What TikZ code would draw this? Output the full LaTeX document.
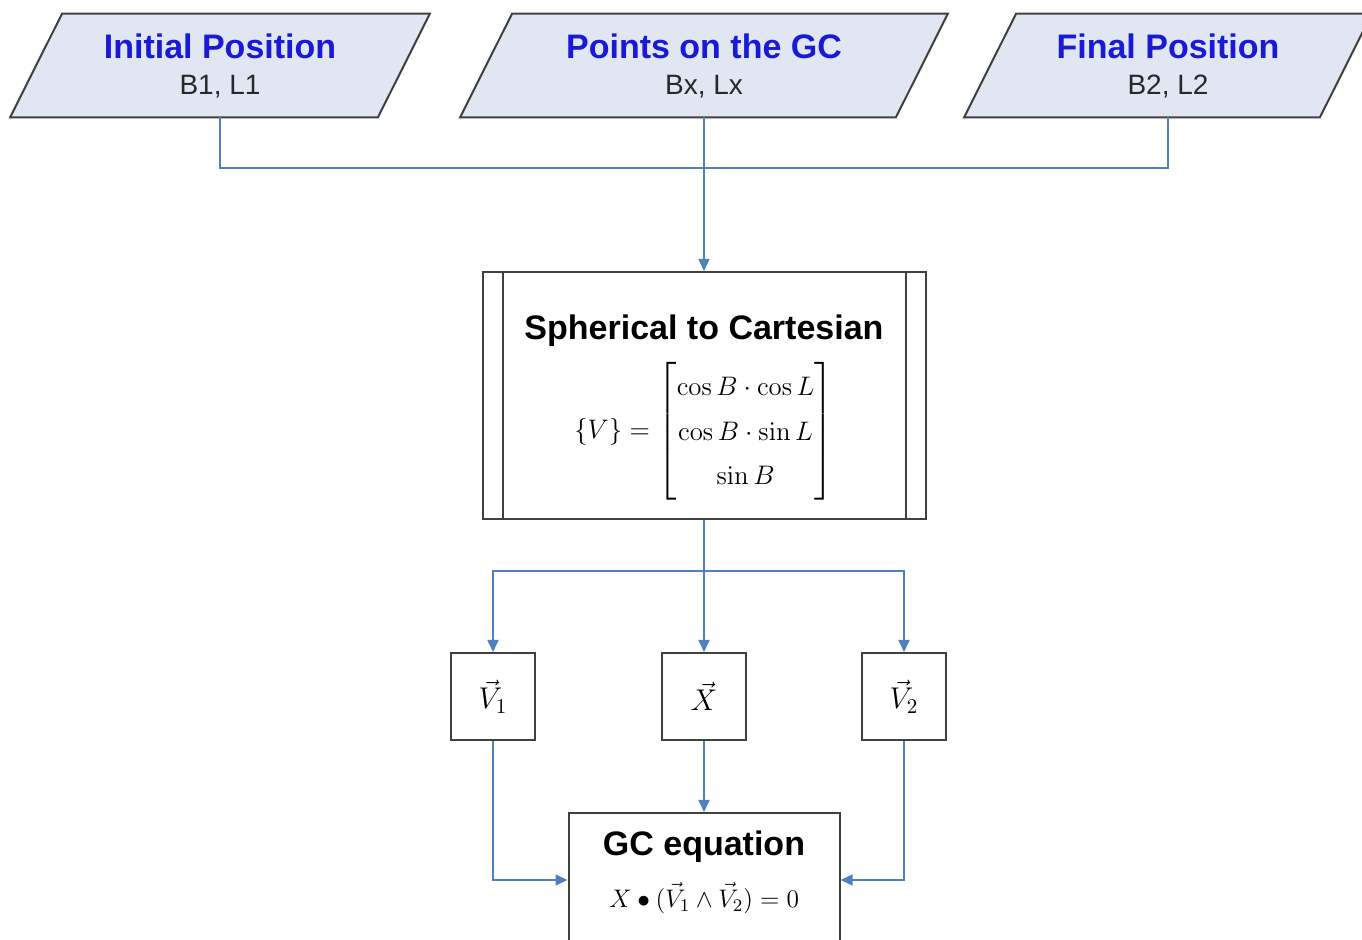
\documentclass[tikz,border=0pt]{standalone}
\usepackage{fix-cm}
\usepackage{amsmath}
\usepackage[no-math]{fontspec}
\setmainfont{Liberation Sans}
\usetikzlibrary{arrows.meta,backgrounds}

\definecolor{linkblue}{RGB}{79,129,189}
\definecolor{titleblue}{RGB}{25,25,215}
\definecolor{iofill}{RGB}{224,231,243}
\definecolor{edgegray}{RGB}{64,64,64}
\definecolor{subgray}{RGB}{40,40,40}

\newcommand{\iohead}[1]{{\color{titleblue}\bfseries\fontsize{17}{20}\selectfont #1}}
\newcommand{\boxhead}[1]{{\bfseries\fontsize{17}{20}\selectfont #1}}

\tikzset{
  iotext/.style={minimum height=51.5pt, inner sep=0pt, align=center, text=subgray, font=\fontsize{14}{18}\selectfont},
  iobox/.style={draw=edgegray, fill=iofill, line width=1pt},
  procbox/.style={draw=edgegray, line width=1pt, minimum width=221.5pt, minimum height=123.5pt, inner sep=0pt, align=center, font=\fontsize{13.4}{17}\selectfont},
  vecbox/.style={draw=edgegray, line width=1pt, minimum width=42pt, minimum height=43.5pt, inner sep=0pt, font=\fontsize{15}{18}\selectfont},
  eqbox/.style={draw=edgegray, line width=1pt, minimum width=135.5pt, minimum height=67pt, inner sep=0pt, align=center, font=\fontsize{12.7}{17}\selectfont},
  link/.style={draw=linkblue, line width=0.8pt},
  arrow/.style={link, -{Triangle[length=6pt,width=5.5pt]}}
}

\begin{document}
\begin{tikzpicture}[x=1pt, y=1pt]
\useasboundingbox (0,0) rectangle (681,-470);

% inputs
\node[iotext, minimum width=183.5pt] (ini) at (110,-32.75) {\iohead{Initial Position}\\ B1, L1};
\node[iotext, minimum width=217.5pt] (pts) at (352,-32.75) {\iohead{Points on the GC}\\ Bx, Lx};
\node[iotext, minimum width=177.5pt] (fin) at (584,-32.75) {\iohead{Final Position}\\ B2, L2};
\begin{scope}[on background layer]
  \foreach \n in {ini,pts,fin}
    \draw[iobox] ([xshift=-13pt]\n.south west) -- ([xshift=-13pt]\n.south east)
      -- ([xshift=13pt]\n.north east) -- ([xshift=13pt]\n.north west) -- cycle;
\end{scope}

% conversion
\node[procbox] (sph) at (352,-197.75) {\boxhead{Spherical to Cartesian}\\[7pt]
  $\{V\}=\renewcommand{\arraystretch}{1.3}\begin{bmatrix}\cos B\cdot\cos L\\ \cos B\cdot\sin L\\ \sin B\end{bmatrix}$\\[-13pt]};
\draw[edgegray, line width=1pt] ([xshift=10.5pt]sph.north west) -- ([xshift=10.5pt]sph.south west);
\draw[edgegray, line width=1pt] ([xshift=-10.5pt]sph.north east) -- ([xshift=-10.5pt]sph.south east);

% vectors
\node[vecbox] (v1) at (246.5,-348.25) {$\vec{V}_1$};
\node[vecbox] (xv) at (352,-348.25) {$\vec{X}$};
\node[vecbox] (v2) at (452,-348.25) {$\vec{V}_2$};

% result
\node[eqbox] (gce) at (352,-440) {\boxhead{GC equation}\\[9pt]
  $X\bullet(\vec{V}_1\wedge\vec{V}_2)=0$\\[-6pt]};

\coordinate (join) at (352,-84);
\coordinate (split) at (352,-285.5);

\draw[link] (ini.south) |- (join) -| (fin.south);
\draw[arrow] (pts.south) -- (sph.north);
\draw[arrow] (sph.south) -- (xv.north);
\draw[arrow] (split) -| (v1.north);
\draw[arrow] (split) -| (v2.north);
\draw[arrow] (v1.south) |- (gce.west);
\draw[arrow] (xv.south) -- (gce.north);
\draw[arrow] (v2.south) |- (gce.east);
\end{tikzpicture}
\end{document}
